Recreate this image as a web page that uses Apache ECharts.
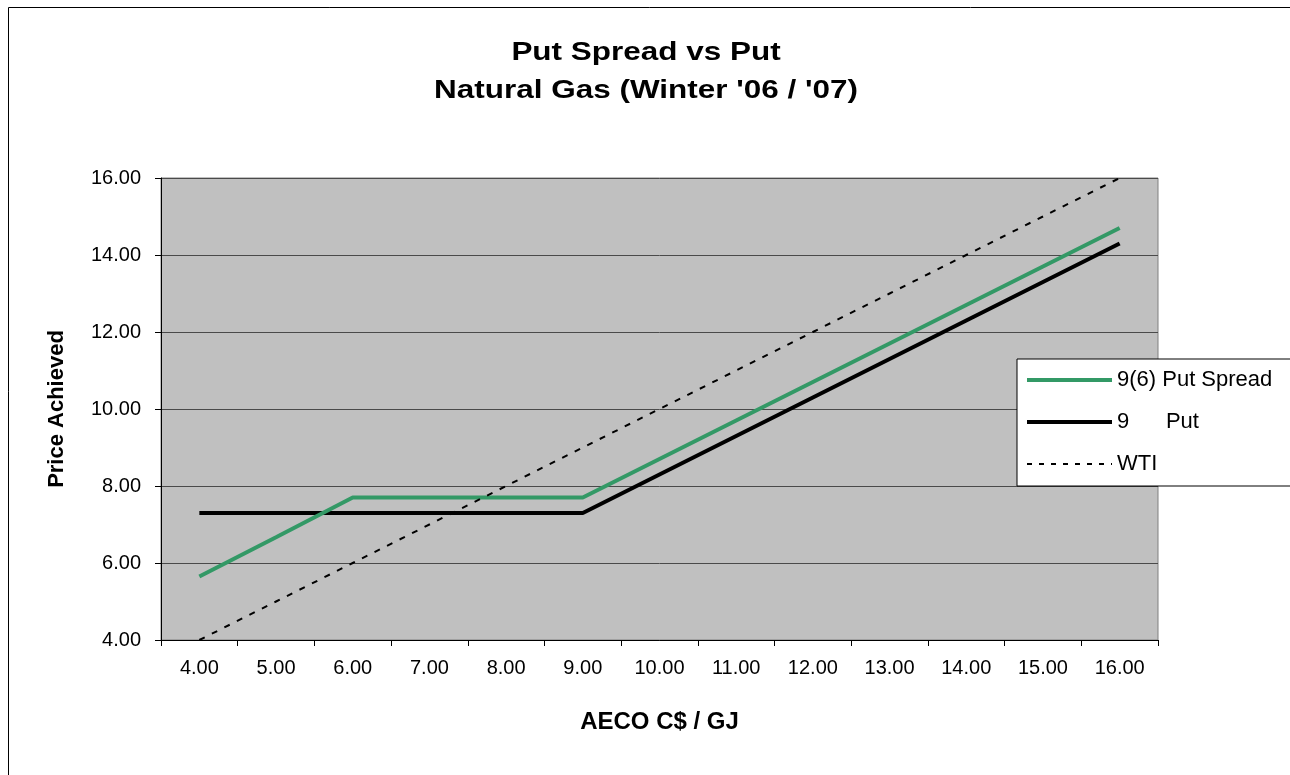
<!DOCTYPE html>
<html>
<head>
<meta charset="utf-8">
<script src="https://cdn.jsdelivr.net/npm/echarts@6/dist/echarts.min.js"></script>
<style>
html,body{margin:0;padding:0;background:#fff;}
#chart{width:1290px;height:775px;}
</style>
</head>
<body>
<div id="chart"></div>
<script>
// ---- data ----
var categories = ['4.00','5.00','6.00','7.00','8.00','9.00','10.00','11.00','12.00','13.00','14.00','15.00','16.00'];
var putSpread = [5.65, 6.67, 7.7, 7.7, 7.7, 7.7, 8.7, 9.7, 10.7, 11.7, 12.7, 13.7, 14.7];
var put = [7.3, 7.3, 7.3, 7.3, 7.3, 7.3, 8.3, 9.3, 10.3, 11.3, 12.3, 13.3, 14.3];
var wti = [4, 5, 6, 7, 8, 9, 10, 11, 12, 13, 14, 15, 16];
var seriesNames = ['9(6) Put Spread', '9      Put', 'WTI'];
var titleLines = ['Put Spread vs Put', "Natural Gas (Winter '06 / '07)"];
var xAxisTitle = 'AECO C$ / GJ';
var yAxisTitle = 'Price Achieved';

var FONT = '"Liberation Sans", Arial, sans-serif';
var chart = echarts.init(document.getElementById('chart'), null, {renderer: 'canvas'});
var option = {
  backgroundColor: '#ffffff',
  animation: false,
  graphic: [
    {type: 'rect', shape: {x: 8.5, y: 7.5, width: 1300, height: 800}, style: {fill: 'none', stroke: '#000', lineWidth: 1}, z: -10, silent: true},
    {type: 'text', x: 646, y: 53, scaleX: 1.21, style: {text: titleLines[0], font: 'bold 26px ' + FONT, fill: '#000', align: 'center', verticalAlign: 'middle'}},
    {type: 'text', x: 646, y: 90.5, scaleX: 1.21, style: {text: titleLines[1], font: 'bold 26px ' + FONT, fill: '#000', align: 'center', verticalAlign: 'middle'}}
  ],
  grid: {
    left: 161, right: 132, top: 178, bottom: 135,
    show: true, backgroundColor: '#C0C0C0', borderColor: '#808080', borderWidth: 1
  },
  legend: {
    data: [
      {name: seriesNames[0], itemStyle: {opacity: 0}, lineStyle: {width: 4, color: '#339966'}},
      {name: seriesNames[1], itemStyle: {opacity: 0}, lineStyle: {width: 4, color: '#000000'}},
      {name: seriesNames[2], itemStyle: {opacity: 0}, lineStyle: {width: 2, color: '#000000', type: [5, 7]}}
    ],
    orient: 'vertical',
    left: 1017, top: 359,
    padding: [10, 20, 11, 8],
    itemWidth: 85, itemHeight: 14, itemGap: 20,
    backgroundColor: '#ffffff', borderColor: '#000000', borderWidth: 1,
    textStyle: {fontFamily: FONT, fontSize: 22, color: '#000'},
    selectedMode: false
  },
  xAxis: {
    type: 'category',
    data: categories,
    boundaryGap: true,
    name: xAxisTitle,
    nameLocation: 'middle',
    nameGap: 70,
    nameTextStyle: {fontFamily: FONT, fontSize: 24, fontWeight: 'bold', color: '#000'},
    axisLine: {lineStyle: {color: '#000', width: 1}},
    axisTick: {show: true, inside: false, length: 6, lineStyle: {color: '#000'}},
    axisLabel: {fontFamily: FONT, fontSize: 20, color: '#000', margin: 18, interval: 0},
    splitLine: {show: false}
  },
  yAxis: {
    type: 'value',
    min: 4, max: 16, interval: 2,
    name: yAxisTitle,
    nameLocation: 'middle',
    nameGap: 93,
    nameRotate: 90,
    nameTextStyle: {fontFamily: FONT, fontSize: 22, fontWeight: 'bold', color: '#000'},
    axisLine: {show: true, lineStyle: {color: '#000', width: 1}},
    axisTick: {show: true, inside: false, length: 6, lineStyle: {color: '#000'}},
    axisLabel: {fontFamily: FONT, fontSize: 20, color: '#000', margin: 20, formatter: function (v) { return v.toFixed(2); }},
    splitLine: {show: true, lineStyle: {color: '#4a4a4a', width: 1}}
  },
  series: [
    {name: seriesNames[1], type: 'line', data: put, symbol: 'none', z: 3,
     lineStyle: {color: '#000000', width: 4}, itemStyle: {color: '#000000'}},
    {name: seriesNames[0], type: 'line', data: putSpread, symbol: 'none', z: 4,
     lineStyle: {color: '#339966', width: 4}, itemStyle: {color: '#339966'}},
    {name: seriesNames[2], type: 'line', data: wti, symbol: 'none', z: 5,
     lineStyle: {color: '#000000', width: 2, type: [6, 8]}, itemStyle: {color: '#000000'}}
  ]
};
chart.setOption(option);
</script>
</body>
</html>
